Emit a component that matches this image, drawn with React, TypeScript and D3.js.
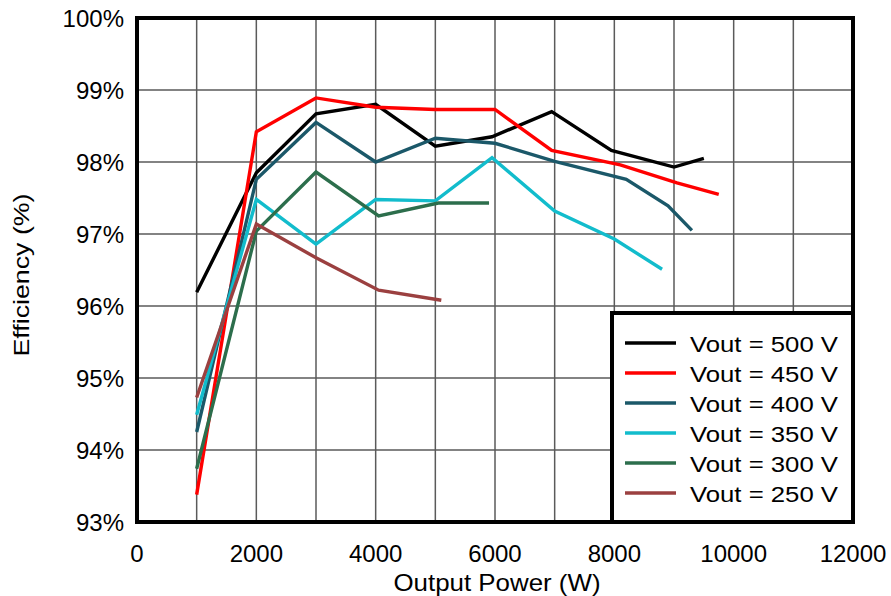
import React from "react";
import * as d3 from "d3";

const xTicks = [0, 2000, 4000, 6000, 8000, 10000, 12000];
const xGrid = [0, 1000, 2000, 3000, 4000, 5000, 6000, 7000, 8000, 9000, 10000, 11000, 12000];
const yTicks = [93, 94, 95, 96, 97, 98, 99, 100];

const seriesNames = ["Vout = 500 V", "Vout = 450 V", "Vout = 400 V", "Vout = 350 V", "Vout = 300 V", "Vout = 250 V"];
const seriesColors = ["#000000", "#ff0000", "#1b5869", "#12bccc", "#2c6e4c", "#9b4040"];

const v500: [number, number][] = [[1000, 96.19], [2000, 97.85], [3000, 98.67], [4000, 98.8], [5000, 98.22], [5950, 98.35], [6950, 98.7], [7950, 98.16], [9000, 97.93], [9500, 98.05]];
const v450: [number, number][] = [[1000, 93.38], [2000, 98.42], [3000, 98.89], [4000, 98.76], [5000, 98.73], [6000, 98.73], [6950, 98.16], [8100, 97.96], [9050, 97.71], [9750, 97.55]];
const v400: [number, number][] = [[1000, 94.25], [2000, 97.76], [3000, 98.55], [4000, 98.0], [5000, 98.33], [6000, 98.26], [7000, 98.01], [8200, 97.76], [8900, 97.39], [9300, 97.05]];
const v350: [number, number][] = [[1000, 94.49], [2000, 97.48], [3000, 96.86], [4000, 97.48], [5000, 97.46], [5950, 98.06], [7000, 97.32], [8000, 96.93], [8800, 96.51]];
const v300: [number, number][] = [[1000, 93.74], [2000, 97.04], [3000, 97.86], [4050, 97.25], [5050, 97.43], [5900, 97.43]];
const v250: [number, number][] = [[1000, 94.73], [2000, 97.14], [3000, 96.67], [4050, 96.22], [5100, 96.08]];

const seriesData = [v500, v450, v400, v350, v300, v250];

const W = 891;
const H = 596;
const L = 137, R = 853, T = 18, B = 522;

export default function App() {
  const x = d3.scaleLinear().domain([0, 12000]).range([L, R]);
  const y = d3.scaleLinear().domain([93, 100]).range([B, T]);
  const line = d3.line<[number, number]>().x((d) => x(d[0])).y((d) => y(d[1]));
  const font = "'Liberation Sans', Arial, sans-serif";

  return (
    <svg width={W} height={H} style={{ position: "fixed", left: 0, top: 0, background: "#fff" }} fontFamily={font}>
      <rect x={0} y={0} width={W} height={H} fill="#fff" />
      {xGrid.map((t) => (
        <line key={"gx" + t} x1={x(t)} x2={x(t)} y1={T} y2={B} stroke="#5a5a5a" strokeWidth={1.5} />
      ))}
      {yTicks.map((t) => (
        <line key={"gy" + t} x1={L} x2={R} y1={y(t)} y2={y(t)} stroke="#5a5a5a" strokeWidth={1.5} />
      ))}
      {seriesData.map((s, i) => (
        <path key={"s" + i} d={line(s) || ""} fill="none" stroke={seriesColors[i]} strokeWidth={3.4} strokeLinejoin="miter" />
      ))}
      <rect x={612} y={313} width={R - 612} height={B - 313} fill="#fff" stroke="#000" strokeWidth={4} />
      {seriesNames.map((n, i) => (
        <g key={"lg" + i}>
          <line x1={625} x2={676} y1={343 + i * 30} y2={343 + i * 30} stroke={seriesColors[i]} strokeWidth={3.4} />
          <text x={690} y={352 + i * 30} fontSize={22} textLength={148} lengthAdjust="spacingAndGlyphs" fill="#000">{n}</text>
        </g>
      ))}
      <rect x={L} y={T} width={R - L} height={B - T} fill="none" stroke="#000" strokeWidth={4} />
      {yTicks.map((t) => (
        <text key={"yt" + t} x={124} y={y(t) + 8.5} fontSize={24} textAnchor="end" fill="#000">{t + "%"}</text>
      ))}
      {xTicks.map((t) => (
        <text key={"xt" + t} x={x(t)} y={562} fontSize={24} textAnchor="middle" fill="#000">{String(t)}</text>
      ))}
      <text x={497} y={591} fontSize={24} textLength={207} lengthAdjust="spacingAndGlyphs" textAnchor="middle" fill="#000">Output Power (W)</text>
      <text transform={`translate(28.5,275) rotate(-90)`} x={0} y={0} fontSize={22} textLength={163} lengthAdjust="spacingAndGlyphs" textAnchor="middle" fill="#000">Efficiency (%)</text>
    </svg>
  );
}
